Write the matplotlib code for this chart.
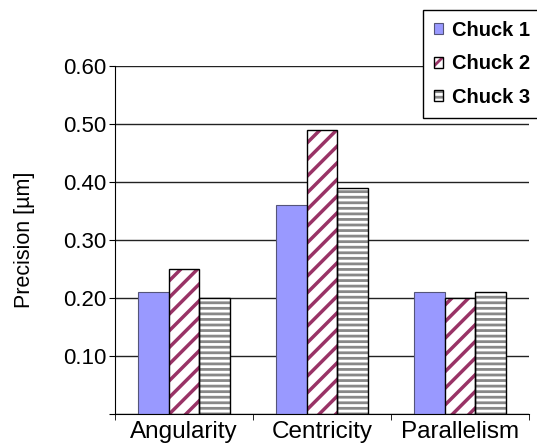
import matplotlib

matplotlib.use("Agg")
import matplotlib.pyplot as plt
import numpy as np
from matplotlib.legend_handler import HandlerTuple
from matplotlib.ticker import FixedLocator

categories = ["Angularity", "Centricity", "Parallelism"]
series_names = ["Chuck 1", "Chuck 2", "Chuck 3"]
chuck1 = [0.21, 0.36, 0.21]
chuck2 = [0.25, 0.49, 0.20]
chuck3 = [0.20, 0.39, 0.21]
yticks = [0.0, 0.1, 0.2, 0.3, 0.4, 0.5, 0.6]

plt.rcParams["font.family"] = ["Liberation Sans", "DejaVu Sans"]
plt.rcParams["hatch.linewidth"] = 2.0

fig = plt.figure(figsize=(5.37, 4.48), dpi=100)
ax = fig.add_axes((0.214, 0.076, 0.771, 0.777))

x = np.arange(len(categories))
w = 0.222

ax.yaxis.grid(True, color="#222222", linewidth=1.0)
ax.set_axisbelow(True)

b1 = ax.bar(x - w, chuck1, w, color="#9999FF", edgecolor="#55557a", linewidth=0.8, zorder=2)
# hatched fill, then a black outline on top
b2h = ax.bar(x, chuck2, w, color="white", edgecolor="#993366", hatch="//", linewidth=0, zorder=2)
b2e = ax.bar(x, chuck2, w, fill=False, edgecolor="black", linewidth=1.0, zorder=3)
b3h = ax.bar(x + w, chuck3, w, color="white", edgecolor="#888888", hatch="---", linewidth=0, zorder=2)
b3e = ax.bar(x + w, chuck3, w, fill=False, edgecolor="black", linewidth=1.0, zorder=3)

# thicker diagonal stripes than the horizontal ones, where supported
for p in b2h:
    if hasattr(p, "set_hatch_linewidth"):
        p.set_hatch_linewidth(2.5)

ax.set_xlim(-0.5, len(categories) - 0.5)
ax.set_ylim(0, 0.6)
ax.set_yticks(yticks)
ax.set_yticklabels([""] + [f"{v:.2f}" for v in yticks[1:]], fontsize=16)
ax.set_xticks(x)
ax.set_xticklabels(categories, fontsize=17.5)
ax.tick_params(axis="x", which="major", length=0, pad=5)
ax.xaxis.set_minor_locator(FixedLocator(np.arange(-0.5, len(categories), 1.0)))
ax.tick_params(axis="x", which="minor", length=4, color="black")
ax.tick_params(axis="y", length=4, color="black", pad=2)
ax.set_ylabel("Precision [µm]", fontsize=15.5, labelpad=20)

for side in ("top", "right"):
    ax.spines[side].set_visible(False)
for side in ("left", "bottom"):
    ax.spines[side].set_color("black")

leg = fig.legend(
    [b1[0], (b2h[0], b2e[0]), (b3h[0], b3e[0])], series_names,
    handler_map={tuple: HandlerTuple(ndivide=1)},
    loc="upper left", bbox_to_anchor=(0.788, 0.978),
    prop={"weight": "bold", "size": 14.5},
    handlelength=0.45, handleheight=0.45, handletextpad=0.45,
    labelspacing=0.72, borderpad=0.55, borderaxespad=0,
    fancybox=False, framealpha=1, edgecolor="black",
)
leg.get_frame().set_linewidth(1.0)

fig.savefig("out.png", dpi=100)
